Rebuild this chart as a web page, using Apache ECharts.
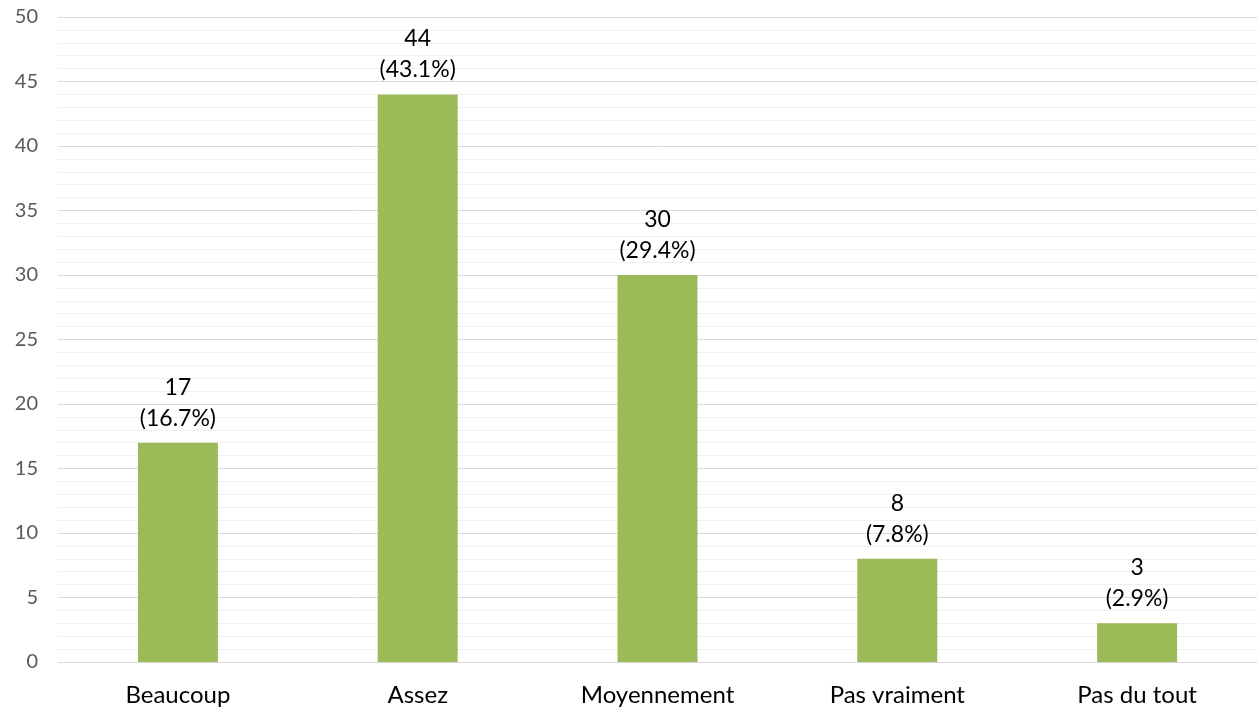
<!DOCTYPE html>
<html>
<head>
<meta charset="utf-8">
<script src="https://cdn.jsdelivr.net/npm/echarts@6/dist/echarts.min.js"></script>
<style>
  html, body { margin: 0; padding: 0; background: #fff; }
  #main { width: 1257px; height: 713px; }
</style>
</head>
<body>
<div id="main"></div>
<script>
// réponses
var categories = ['Beaucoup', 'Assez', 'Moyennement', 'Pas vraiment', 'Pas du tout'];
var counts = [17, 44, 30, 8, 3];
var percents = [16.7, 43.1, 29.4, 7.8, 2.9];

var chart = echarts.init(document.getElementById('main'));
var option = {
    animation: false,
    textStyle: { fontFamily: 'Lato' },
    grid: {
        left: 58,
        right: -3,
        top: 17,
        bottom: 51
    },
    xAxis: {
        type: 'category',
        data: categories,
        axisTick: { show: false },
        axisLine: { lineStyle: { color: '#d9d9d9', width: 1 } },
        axisLabel: { color: '#000', fontSize: 24, margin: 21 }
    },
    yAxis: {
        type: 'value',
        min: 0,
        max: 50,
        interval: 5,
        axisLabel: { color: '#595959', fontSize: 20, margin: 20 },
        splitLine: { lineStyle: { color: '#d9d9d9', width: 1 } },
        minorTick: { show: false, splitNumber: 5 },
        minorSplitLine: { show: true, lineStyle: { color: '#f0f0f0', width: 1 } }
    },
    series: [
        {
            type: 'bar',
            data: counts,
            barWidth: 80,
            itemStyle: { color: '#9bbb59' },
            label: {
                show: true,
                position: 'top',
                distance: 9,
                color: '#000',
                fontSize: 23,
                lineHeight: 31,
                formatter: function (p) {
                    return p.value + '\n(' + percents[p.dataIndex] + '%)';
                }
            }
        }
    ]
};
chart.setOption(option);
</script>
</body>
</html>
